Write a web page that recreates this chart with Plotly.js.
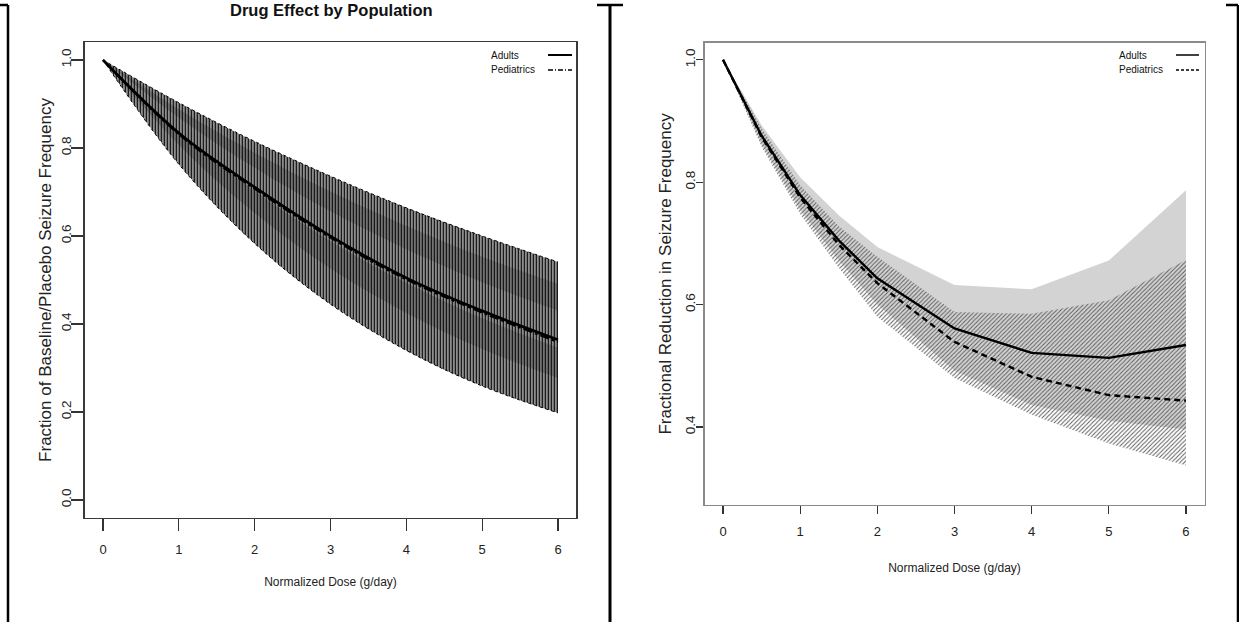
<!DOCTYPE html>
<html>
<head>
<meta charset="utf-8">
<script src="https://cdn.plot.ly/plotly-3.0.1.min.js"></script>
<style>html,body{margin:0;padding:0;background:#fff;}</style>
</head>
<body>
<div id="chart" style="width:1239px;height:622px"></div>
<script>
// ---------- Left panel data (Drug Effect by Population) ----------
const doseL = [0, 1, 2, 3, 4, 5, 6];
const adultsL = [1.000, 0.834, 0.711, 0.600, 0.505, 0.430, 0.364];
const pedsL = [1.000, 0.831, 0.707, 0.596, 0.501, 0.426, 0.359];
const outerUpperL = [1.000, 0.903, 0.815, 0.736, 0.664, 0.600, 0.541];
const outerLowerL = [1.000, 0.763, 0.583, 0.445, 0.340, 0.259, 0.198];
const stripeHiTopL = [1.000, 0.888, 0.789, 0.701, 0.623, 0.553, 0.491];
const stripeHiBotL = [1.000, 0.869, 0.755, 0.656, 0.570, 0.495, 0.430];
const stripeLoTopL = [1.000, 0.838, 0.702, 0.588, 0.493, 0.413, 0.346];
const stripeLoBotL = [1.000, 0.807, 0.652, 0.526, 0.425, 0.343, 0.277];
const yTicksL = [0, 0.2, 0.4, 0.6, 0.8, 1.0];

// ---------- Right panel data ----------
const doseR = [0, 0.5, 1, 1.5, 2, 3, 4, 5, 6];
const adultsR = [1.000, 0.876, 0.779, 0.705, 0.643, 0.561, 0.521, 0.513, 0.534];
const pedsR = [1.000, 0.874, 0.775, 0.698, 0.635, 0.539, 0.482, 0.452, 0.443];
const adultsUpperR = [1.000, 0.893, 0.808, 0.746, 0.694, 0.632, 0.625, 0.672, 0.787];
const adultsLowerR = [1.000, 0.862, 0.755, 0.672, 0.600, 0.492, 0.436, 0.410, 0.396];
const pedsUpperR = [1.000, 0.888, 0.795, 0.728, 0.678, 0.588, 0.585, 0.607, 0.673];
const pedsLowerR = [1.000, 0.858, 0.748, 0.660, 0.580, 0.480, 0.420, 0.373, 0.337];
const yTicksR = [0.4, 0.6, 0.8, 1.0];

const xTicks = [0, 1, 2, 3, 4, 5, 6];
const legendNames = ['Adults', 'Pediatrics'];
const titleL = 'Drug Effect by Population';
const xTitle = 'Normalized Dose (g/day)';
const yTitleL = 'Fraction of Baseline/Placebo Seizure Frequency';
const yTitleR = 'Fractional Reduction in Seizure Frequency';

// ---------- helpers (layout placement only) ----------
const W = 1239, H = 622;
const px = v => v / W;
const py = v => 1 - v / H;
const REG = '"Liberation Sans", Arial, Helvetica, sans-serif';

const base = {mode: 'lines', showlegend: false, hoverinfo: 'skip'};

const traces = [
  // left: outer hatched band
  Object.assign({}, base, {x: doseL, y: outerUpperL, xaxis: 'x', yaxis: 'y',
    line: {color: '#000', width: 1, dash: 'dot', shape: 'spline'}}),
  Object.assign({}, base, {x: doseL, y: outerLowerL, xaxis: 'x', yaxis: 'y', fill: 'tonexty',
    fillcolor: '#8c8c8c',
    fillpattern: {shape: '|', fgcolor: '#000', bgcolor: '#9e9e9e', size: 3, solidity: 0.4},
    line: {color: '#000', width: 1, dash: 'dot', shape: 'spline'}}),
  // left: darker stripes
  Object.assign({}, base, {x: doseL, y: stripeHiTopL, xaxis: 'x', yaxis: 'y',
    line: {width: 0, shape: 'spline'}}),
  Object.assign({}, base, {x: doseL, y: stripeHiBotL, xaxis: 'x', yaxis: 'y', fill: 'tonexty',
    fillcolor: 'rgba(20,20,20,0.22)', line: {width: 0, shape: 'spline'}}),
  Object.assign({}, base, {x: doseL, y: stripeLoTopL, xaxis: 'x', yaxis: 'y',
    line: {width: 0, shape: 'spline'}}),
  Object.assign({}, base, {x: doseL, y: stripeLoBotL, xaxis: 'x', yaxis: 'y', fill: 'tonexty',
    fillcolor: 'rgba(20,20,20,0.22)', line: {width: 0, shape: 'spline'}}),
  // left lines
  Object.assign({}, base, {x: doseL, y: pedsL, xaxis: 'x', yaxis: 'y', name: legendNames[1],
    line: {color: '#000', width: 2, dash: 'dashdot', shape: 'spline'}}),
  Object.assign({}, base, {x: doseL, y: adultsL, xaxis: 'x', yaxis: 'y', name: legendNames[0],
    line: {color: '#000', width: 2.6, shape: 'spline'}}),

  // right: adults light-gray band
  Object.assign({}, base, {x: doseR, y: adultsUpperR, xaxis: 'x2', yaxis: 'y2',
    line: {width: 0}}),
  Object.assign({}, base, {x: doseR, y: adultsLowerR, xaxis: 'x2', yaxis: 'y2', fill: 'tonexty',
    fillcolor: '#d3d3d3', line: {width: 0}}),
  // right: pediatrics hatched band
  Object.assign({}, base, {x: doseR, y: pedsUpperR, xaxis: 'x2', yaxis: 'y2',
    line: {width: 0}}),
  Object.assign({}, base, {x: doseR, y: pedsLowerR, xaxis: 'x2', yaxis: 'y2', fill: 'tonexty',
    fillcolor: 'rgba(0,0,0,0)',
    fillpattern: {shape: '/', fgcolor: '#5a5a5a', bgcolor: 'rgba(0,0,0,0)', size: 3, solidity: 0.32},
    line: {width: 0}}),
  // right lines
  Object.assign({}, base, {x: doseR, y: pedsR, xaxis: 'x2', yaxis: 'y2', name: legendNames[1],
    line: {color: '#000', width: 2.4, dash: '6px,4px'}}),
  Object.assign({}, base, {x: doseR, y: adultsR, xaxis: 'x2', yaxis: 'y2', name: legendNames[0],
    line: {color: '#000', width: 2.4}})
];

function xAxis(domain, anchor, frameColor, ticklen, lblStandoff, standoff) {
  return {
    domain: domain, anchor: anchor, range: [-0.24, 6.24],
    tickvals: xTicks, ticktext: xTicks.map(String),
    ticks: 'outside', ticklen: ticklen, tickwidth: 1.2, tickcolor: '#333',
    ticklabelstandoff: lblStandoff,
    showline: true, mirror: true, linecolor: frameColor, linewidth: 1.4,
    showgrid: false, zeroline: false, automargin: false,
    tickfont: {family: REG, size: 13, color: '#222'},
    title: {text: xTitle, font: {family: REG, size: 12, color: '#222'}, standoff: standoff}
  };
}
function yAxis(domain, anchor, range, ticks, frameColor, ticklen, lblStandoff, title, standoff) {
  return {
    domain: domain, anchor: anchor, range: range,
    tickvals: ticks, tickformat: '.1f', tickangle: -90,
    ticks: 'outside', ticklen: ticklen, tickwidth: 1.2, tickcolor: '#333',
    ticklabelstandoff: lblStandoff,
    showline: true, mirror: true, linecolor: frameColor, linewidth: 1.4,
    showgrid: false, zeroline: false, automargin: false,
    tickfont: {family: REG, size: 13.5, color: '#222'},
    title: {text: title, font: {family: REG, size: 17, color: '#222'}, standoff: standoff}
  };
}

const borders = [
  [8, 5, 8, 622, 2.5], [0, 5, 8, 5, 2.5],
  [610, 5, 610, 622, 3], [597, 5, 623, 5, 2.5],
  [1238, 5, 1238, 622, 2.5], [1226, 5, 1238, 5, 2.5]
].map(b => ({type: 'line', xref: 'paper', yref: 'paper',
  x0: px(b[0]), y0: py(b[1]), x1: px(b[2]), y1: py(b[3]),
  line: {color: '#000', width: b[4]}}));

const legendLines = [
  {x0: 548, x1: 572, y: 55, dash: 'solid', w: 2},
  {x0: 548, x1: 572, y: 70, dash: '5px,2px,1px,2px', w: 1.4},
  {x0: 1176, x1: 1199, y: 55, dash: 'solid', w: 1.5},
  {x0: 1176, x1: 1199, y: 70, dash: '3px,2px', w: 1.4}
].map(l => ({type: 'line', xref: 'paper', yref: 'paper',
  x0: px(l.x0), x1: px(l.x1), y0: py(l.y), y1: py(l.y),
  line: {color: '#000', width: l.w, dash: l.dash}}));

const legendText = [
  [489, 55, legendNames[0]], [489, 70, legendNames[1]],
  [1117, 55, legendNames[0]], [1117, 70, legendNames[1]]
].map(t => ({xref: 'paper', yref: 'paper', x: px(t[0]), y: py(t[1]),
  xanchor: 'left', yanchor: 'middle', showarrow: false, text: t[2],
  font: {family: REG, size: 10, color: '#111'}}));

const titleAnn = {xref: 'paper', yref: 'paper', x: px(331), y: py(0),
  xanchor: 'center', yanchor: 'top', showarrow: false, borderpad: 0,
  text: '<b>' + titleL + '</b>', font: {family: REG, size: 16.5, color: '#111'}};

const layout = {
  width: W, height: H,
  margin: {l: 0, r: 0, t: 0, b: 0, pad: 0},
  paper_bgcolor: '#fff', plot_bgcolor: 'rgba(0,0,0,0)',
  showlegend: false,
  xaxis: xAxis([px(84.8), px(576.2)], 'y', '#3a3a3a', 12, 7, 22),
  yaxis: yAxis([py(517.6), py(42.4)], 'x', [-0.04, 1.04], yTicksL, '#3a3a3a', 12, -5, yTitleL, 3),
  xaxis2: xAxis([px(704.5), px(1204.5)], 'y2', '#8a8a8a', 8, 6, 25),
  yaxis2: yAxis([py(505), py(42.8)], 'x2', [0.2725, 1.0278], yTicksR, '#8a8a8a', 7, -4, yTitleR, 6),
  shapes: borders.concat(legendLines),
  annotations: legendText.concat([titleAnn])
};

Plotly.newPlot('chart', traces, layout, {staticPlot: true, displayModeBar: false});
</script>
</body>
</html>
